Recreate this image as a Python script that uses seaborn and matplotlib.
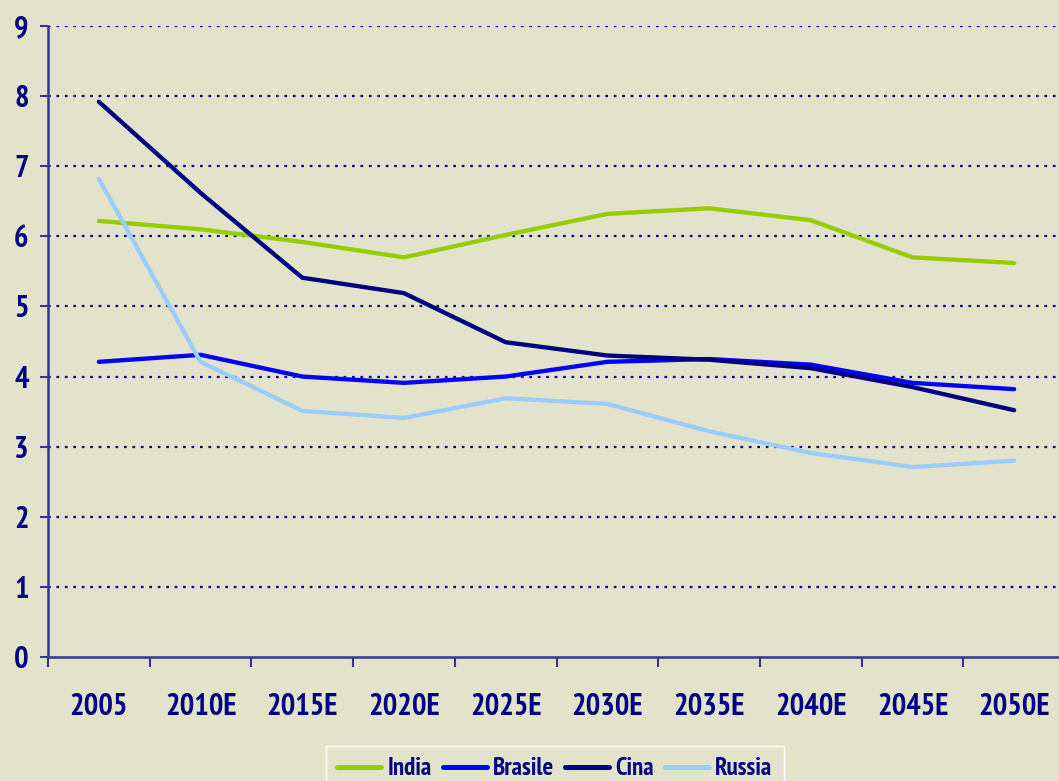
import matplotlib
matplotlib.use("Agg")
import matplotlib.pyplot as plt
import matplotlib.font_manager as fm
import seaborn as sns
import pandas as pd
import numpy as np

categories = ["2005", "2010E", "2015E", "2020E", "2025E", "2030E", "2035E", "2040E", "2045E", "2050E"]
india = [6.22, 6.10, 5.92, 5.70, 6.02, 6.32, 6.40, 6.23, 5.70, 5.62]
brasile = [4.21, 4.31, 4.00, 3.91, 4.00, 4.21, 4.25, 4.17, 3.91, 3.82]
cina = [7.92, 6.62, 5.41, 5.19, 4.49, 4.30, 4.24, 4.12, 3.85, 3.52]
russia = [6.82, 4.21, 3.51, 3.41, 3.69, 3.61, 3.22, 2.91, 2.71, 2.80]
series_names = ["India", "Brasile", "Cina", "Russia"]
colors = ["#99CC00", "#0000FF", "#000080", "#99CCFF"]

rows = []
for name, vals in zip(series_names, [india, brasile, cina, russia]):
    for i, v in enumerate(vals):
        rows.append({"x": i, "value": v, "series": name})
df = pd.DataFrame(rows)

sns.set_theme(style="white")
bold_fams = {f.name for f in fm.fontManager.ttflist if f.weight in (700, "bold")}
fam = "Liberation Sans"
for cand in ["Liberation Sans Narrow", "Arial Narrow", "PT Sans Narrow", "Roboto Condensed",
             "Open Sans Condensed", "Asap Condensed", "Cabin Condensed"]:
    if cand in bold_fams:
        fam = cand
        break
plt.rcParams["font.family"] = [fam, "DejaVu Sans"]

bg = "#E3E3CB"
navy = "#000080"
spine_c = "#333399"

fig = plt.figure(figsize=(10.59, 7.81), dpi=100, facecolor=bg)
ax = fig.add_axes([48 / 1059, 124 / 781, 1017 / 1059, 631 / 781])
ax.set_facecolor(bg)

sns.lineplot(data=df, x="x", y="value", hue="series", hue_order=series_names,
             palette=colors, linewidth=3.1, sort=False, ax=ax, legend=True)

ax.set_xlim(-0.5, 9.5)
ax.set_ylim(0, 9)
ax.set_yticks(range(0, 10))
ax.set_yticklabels([str(i) for i in range(0, 10)])
for y in range(1, 10):
    ax.axhline(y, color=navy, linestyle=(0, (1.2, 2.6)), linewidth=1.6, zorder=0.5)

ax.set_xticks(np.arange(-0.5, 10.0, 1.0))
ax.set_xticklabels([])
ax.set_xticks(np.arange(0, 10), minor=True)
ax.set_xticklabels(categories, minor=True)
ax.tick_params(axis="x", which="major", direction="out", length=7, width=1.5,
               color=spine_c, bottom=True)
ax.tick_params(axis="x", which="minor", length=0, pad=26, labelsize=22,
               labelcolor=navy)
ax.tick_params(axis="y", direction="out", length=6, width=1.5, color=spine_c,
               left=True, pad=8, labelsize=22, labelcolor=navy)
for lbl in ax.get_xticklabels(minor=True) + ax.get_yticklabels():
    lbl.set_fontweight("bold")

for s in ["top", "right"]:
    ax.spines[s].set_visible(False)
for s in ["left", "bottom"]:
    ax.spines[s].set_color(spine_c)
    ax.spines[s].set_linewidth(1.8)

ax.set_xlabel("")
ax.set_ylabel("")

handles, labels = ax.get_legend_handles_labels()
ax.get_legend().remove()
leg = fig.legend(handles, labels, loc="upper center", bbox_to_anchor=(555 / 1059, 1 - 746 / 781),
                 borderaxespad=0, ncol=4, frameon=True, fancybox=False, facecolor=bg,
                 edgecolor="white", framealpha=1, handlelength=1.75, handletextpad=0.25,
                 columnspacing=0.45, borderpad=0.45, prop={"size": 18, "weight": "bold"})
for t in leg.get_texts():
    t.set_color(navy)
for h in leg.get_lines():
    h.set_linewidth(3.6)

fig.savefig("out.png", dpi=100, facecolor=bg)
